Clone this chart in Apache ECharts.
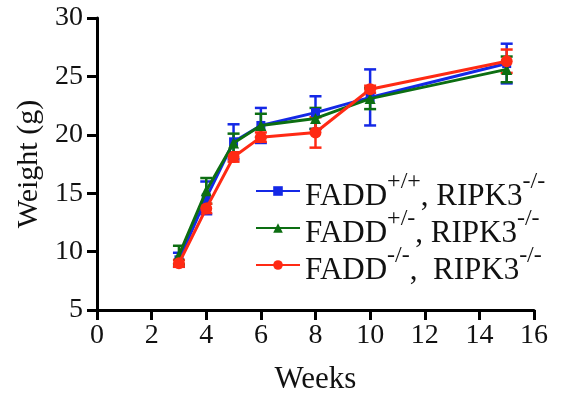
<!DOCTYPE html>
<html>
<head>
<meta charset="utf-8">
<script src="https://cdn.jsdelivr.net/npm/echarts@6/dist/echarts.min.js"></script>
<style>
  html, body { margin: 0; padding: 0; background: #fff; }
  #main { width: 574px; height: 400px; }
</style>
</head>
<body>
<div id="main"></div>
<script>
// data
var weeks = [3, 4, 5, 6, 8, 10, 15];
var wtMean = [9.3, 14.6, 19.4, 20.8, 21.9, 23.2, 26.1];
var wtErr = [0.6, 1.4, 1.5, 1.5, 1.4, 2.4, 1.7];
var hetMean = [9.7, 15.2, 19.3, 20.8, 21.4, 23.1, 25.6];
var hetErr = [0.8, 1.1, 0.8, 1.0, 0.9, 0.9, 1.1];
var koMean = [9.0, 13.7, 18.1, 19.8, 20.2, 23.9, 26.3];
var koErr = [0.3, 0.4, 0.4, 0.4, 1.3, 0.3, 1.0];
var names = ['FADD+/+', 'FADD+/-', 'FADD-/-'];
var supers = ['+/+', '+/-', '-/-'];

var font = 'Liberation Serif';
var blue = '#1428e6';
var green = '#0c6e12';
var red = '#ff2a14';

var chart = echarts.init(document.getElementById('main'));

function points(mean) {
    return weeks.map(function (w, i) { return [w, mean[i]]; });
}

function bars(mean, err) {
    return weeks.map(function (w, i) { return [w, mean[i] - err[i], mean[i] + err[i]]; });
}

function errorBar(color) {
    return function (params, api) {
        var x = api.value(0);
        var top = api.coord([x, api.value(2)]);
        var bot = api.coord([x, api.value(1)]);
        var w = 6;
        var st = { stroke: color, lineWidth: 2.5 };
        return {
            type: 'group',
            children: [
                { type: 'line', shape: { x1: top[0], y1: top[1], x2: bot[0], y2: bot[1] }, style: st },
                { type: 'line', shape: { x1: top[0] - w, y1: top[1], x2: top[0] + w, y2: top[1] }, style: st },
                { type: 'line', shape: { x1: bot[0] - w, y1: bot[1], x2: bot[0] + w, y2: bot[1] }, style: st }
            ]
        };
    };
}

function lineSeries(name, mean, color, symbol, size, z) {
    return {
        name: name,
        type: 'line',
        data: points(mean),
        symbol: symbol,
        symbolSize: size,
        color: color,
        lineStyle: { width: 3, color: color },
        itemStyle: { color: color },
        z: z,
        animation: false
    };
}

function errSeries(mean, err, color, z) {
    return {
        type: 'custom',
        renderItem: errorBar(color),
        data: bars(mean, err),
        encode: { x: 0, y: [1, 2] },
        z: z,
        silent: true,
        animation: false
    };
}

var option = {
    backgroundColor: '#fff',
    grid: { left: 97, top: 18, right: 40, bottom: 89 },
    xAxis: {
        type: 'value',
        min: 0, max: 16, interval: 2,
        name: 'Weeks',
        nameLocation: 'middle',
        nameGap: 54,
        nameTextStyle: { fontFamily: font, fontSize: 31, color: '#111' },
        axisLine: { onZero: false, lineStyle: { color: '#000', width: 3 } },
        axisTick: { length: 10, lineStyle: { color: '#000', width: 3 } },
        axisLabel: { fontFamily: font, fontSize: 28, color: '#111', margin: 12 },
        splitLine: { show: false }
    },
    yAxis: {
        type: 'value',
        min: 5, max: 30, interval: 5,
        name: 'Weight (g)',
        nameLocation: 'middle',
        nameGap: 52,
        nameTextStyle: { fontFamily: font, fontSize: 30, color: '#111' },
        axisLine: { show: true, lineStyle: { color: '#000', width: 3 } },
        axisTick: { show: true, length: 10, lineStyle: { color: '#000', width: 3 } },
        axisLabel: { fontFamily: font, fontSize: 28, color: '#111', margin: 14 },
        splitLine: { show: false }
    },
    legend: {
        orient: 'vertical',
        left: 250,
        top: 165,
        itemWidth: 44,
        itemHeight: 12,
        itemGap: -5,
        data: names,
        formatter: function (name) {
            var i = names.indexOf(name);
            var gap = i === 2 ? ',  ' : ', ';
            return '{n|FADD}{s|' + supers[i] + '}{n|' + gap + 'RIPK3}{s|-/-}';
        },
        textStyle: {
            rich: {
                n: { fontFamily: font, fontSize: 31, color: '#111', lineHeight: 30, verticalAlign: 'bottom' },
                s: { fontFamily: font, fontSize: 24, color: '#111', verticalAlign: 'top', padding: [0, 0, 18, 0] }
            }
        }
    },
    series: [
        errSeries(wtMean, wtErr, blue, 2),
        errSeries(hetMean, hetErr, green, 3),
        errSeries(koMean, koErr, red, 4),
        lineSeries(names[0], wtMean, blue, 'rect', 9, 5),
        lineSeries(names[1], hetMean, green, 'triangle', 11, 6),
        lineSeries(names[2], koMean, red, 'circle', 12, 7)
    ]
};

chart.setOption(option);
</script>
</body>
</html>
